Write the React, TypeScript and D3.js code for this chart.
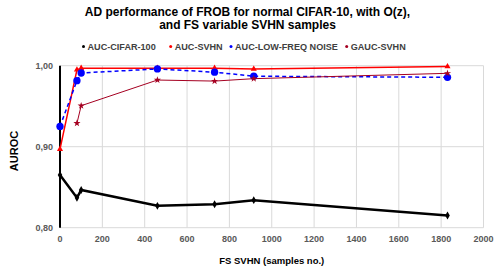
import React from 'react'
import * as d3 from 'd3'

const width = 494
const height = 269
const margin = { top: 65.7, right: 10.5, bottom: 41.3, left: 60 }
const innerWidth = width - margin.left - margin.right
const innerHeight = height - margin.top - margin.bottom

const xTicks = [0, 200, 400, 600, 800, 1000, 1200, 1400, 1600, 1800, 2000]
const yTicks = [0.8, 0.9, 1.0]

const cifarX = [0, 80, 100, 460, 730, 915, 1830]
const cifarY = [0.865, 0.837, 0.8465, 0.827, 0.829, 0.834, 0.815]

const svhnX = [0, 80, 100, 460, 730, 915, 1830]
const svhnY = [0.897, 0.995, 0.997, 0.997, 0.997, 0.996, 0.999]

const noiseX = [0, 80, 100, 460, 730, 915, 1830]
const noiseY = [0.925, 0.9815, 0.991, 0.996, 0.992, 0.987, 0.9857]

const gaucX = [80, 100, 460, 730, 915, 1830]
const gaucY = [0.929, 0.9506, 0.9823, 0.981, 0.984, 0.9906]

const series = [
  { name: 'AUC-CIFAR-100', xs: cifarX, ys: cifarY, color: '#000000', width: 2.5, dash: '', marker: 'diamond', lx: 83.5 },
  { name: 'AUC-SVHN', xs: svhnX, ys: svhnY, color: '#ff0000', width: 1.5, dash: '', marker: 'triangle', lx: 170.7 },
  { name: 'AUC-LOW-FREQ NOISE', xs: noiseX, ys: noiseY, color: '#0000ff', width: 1.5, dash: '4,3', marker: 'circle', lx: 231 },
  { name: 'GAUC-SVHN', xs: gaucX, ys: gaucY, color: '#a50021', width: 1, dash: '', marker: 'star', lx: 346.7 },
]

const symbols: Record<string, [d3.SymbolType, number]> = {
  diamond: [d3.symbolDiamond, 18],
  triangle: [d3.symbolTriangle, 16],
  circle: [d3.symbolCircle, 42],
  star: [d3.symbolStar, 16],
}

export default function App() {
  const x = d3.scaleLinear().domain([0, 2000]).range([0, innerWidth])
  const y = d3.scaleLinear().domain([0.8, 1.0]).range([innerHeight, 0])
  const font = '"Liberation Sans", Arial, sans-serif'

  return (
    <svg width={width} height={height} style={{ position: 'absolute', left: 0, top: 0 }} fontFamily={font}>
      <rect width={width} height={height} fill="#fff" />
      <text x={247.5} y={16} textAnchor="middle" fontSize={12} fontWeight="bold" fill="#000">
        AD performance of FROB for normal CIFAR-10, with O(z),
      </text>
      <text x={247.5} y={29} textAnchor="middle" fontSize={12} fontWeight="bold" fill="#000">
        and FS variable SVHN samples
      </text>
      {series.map(s => (
        <g key={s.name}>
          <circle cx={s.lx} cy={46.5} r={1.5} fill={s.color} />
          <text x={s.lx + 4} y={49.5} fontSize={9.1} fontWeight="bold" fill="#404040">{s.name}</text>
        </g>
      ))}
      <g transform={`translate(${margin.left},${margin.top})`}>
        {xTicks.map(t => (
          <g key={t}>
            {t > 0 && <line x1={x(t)} x2={x(t)} y1={0} y2={innerHeight} stroke="#d9d9d9" strokeWidth={1} />}
            <text x={x(t)} y={innerHeight + 14} textAnchor="middle" fontSize={9} fontWeight="bold" fill="#595959">{t}</text>
          </g>
        ))}
        {yTicks.map(t => (
          <g key={t}>
            <line x1={0} x2={innerWidth} y1={y(t)} y2={y(t)} stroke="#d9d9d9" strokeWidth={1} />
            <text x={-7} y={y(t) + 3.5} textAnchor="end" fontSize={9} fontWeight="bold" fill="#595959">{d3.format('.2f')(t).replace('.', ',')}</text>
          </g>
        ))}
        <line x1={0} x2={0} y1={0} y2={innerHeight} stroke="#000" strokeWidth={2} />
        {series.map(s => {
          const pts = s.xs.map((v, i) => [x(v), y(s.ys[i])] as [number, number])
          const [type, size] = symbols[s.marker]
          const sym = d3.symbol().type(type).size(size)()
          return (
            <g key={s.name}>
              <path d={d3.line()(pts) || ''} fill="none" stroke={s.color} strokeWidth={s.width} strokeDasharray={s.dash || undefined} />
              {pts.map((p, i) => (
                <path key={i} d={sym || ''} transform={`translate(${p[0]},${p[1]})`} fill={s.color} />
              ))}
            </g>
          )
        })}
      </g>
      <text x={margin.left + innerWidth / 2} y={264} textAnchor="middle" fontSize={9.5} fontWeight="bold" fill="#000">FS SVHN (samples no.)</text>
      <text transform={`translate(17.5,151) rotate(-90)`} textAnchor="middle" fontSize={11} fontWeight="bold" fill="#000">AUROC</text>
    </svg>
  )
}
